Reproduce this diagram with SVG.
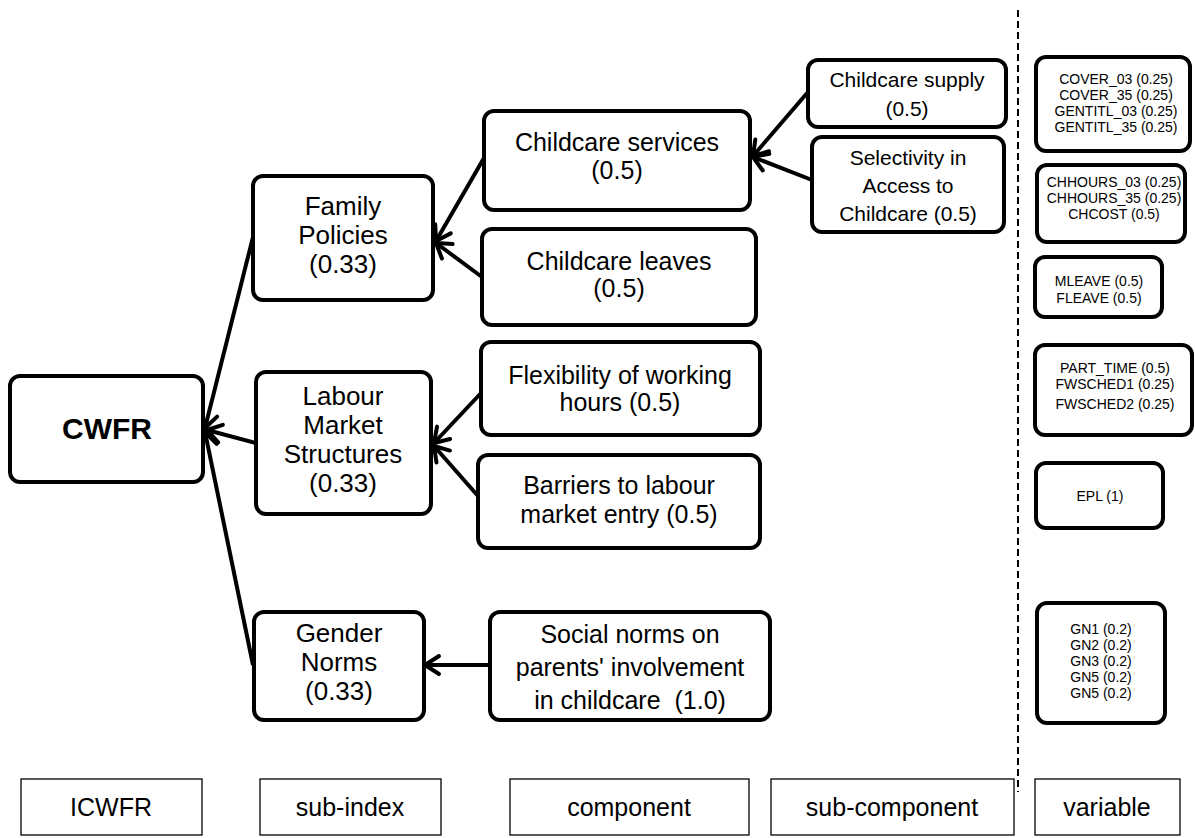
<svg xmlns="http://www.w3.org/2000/svg" width="1195" height="838" viewBox="0 0 1195 838">
<defs>
<marker id="arr" markerUnits="userSpaceOnUse" markerWidth="24" markerHeight="24" viewBox="0 0 24 24" refX="20" refY="12" orient="auto">
<path d="M6,3 L20,12 L6,21" fill="none" stroke="#000" stroke-width="4" stroke-linecap="round" stroke-linejoin="round"/>
</marker>
<style>
.n{fill:#fff;stroke:#000;stroke-width:4}
.lg{fill:#fff;stroke:#000;stroke-width:1.3}
text{font-family:"Liberation Sans",Arial,sans-serif;fill:#000;text-anchor:middle}
.si{font-size:26px}
.co{font-size:25px}
.sc{font-size:21px}
.va{font-size:14px}
.le{font-size:25px}
.c{stroke:#000;stroke-width:4;fill:none;marker-end:url(#arr)}
</style>
</defs>
<rect width="1195" height="838" fill="#fff"/>
<line x1="1018" y1="10" x2="1018" y2="792" stroke="#000" stroke-width="2" stroke-dasharray="7 4"/>

<g id="connectors">
<line class="c" x1="253" y1="237" x2="205" y2="428"/>
<line class="c" x1="256" y1="443" x2="207" y2="430"/>
<line class="c" x1="253" y1="665" x2="205" y2="432"/>
<line class="c" x1="484" y1="158" x2="436" y2="241"/>
<line class="c" x1="482" y1="277" x2="436" y2="243"/>
<line class="c" x1="808" y1="92" x2="753" y2="156"/>
<line class="c" x1="812" y1="180" x2="753" y2="157"/>
<line class="c" x1="482" y1="392" x2="434" y2="443"/>
<line class="c" x1="478" y1="496" x2="434" y2="446"/>
<line class="c" x1="490" y1="665" x2="425" y2="665"/>
</g>

<g id="cwfr"><rect class="n" x="10" y="376" width="193" height="106" rx="10"/>
<text x="107" y="439" style="font-size:30px;font-weight:bold">CWFR</text></g>

<g id="family"><rect class="n" x="253" y="176" width="180" height="124" rx="10"/>
<text class="si" x="343" y="215">Family</text><text class="si" x="343" y="244">Policies</text><text class="si" x="343" y="273">(0.33)</text></g>

<g id="labour"><rect class="n" x="256" y="372" width="175" height="142" rx="10"/>
<text class="si" x="343" y="405">Labour</text><text class="si" x="343" y="434">Market</text><text class="si" x="343" y="463">Structures</text><text class="si" x="343" y="492">(0.33)</text></g>

<g id="gender"><rect class="n" x="254" y="612" width="170" height="108" rx="10"/>
<text class="si" x="339" y="642">Gender</text><text class="si" x="339" y="671">Norms</text><text class="si" x="339" y="700">(0.33)</text></g>

<g id="services"><rect class="n" x="484" y="111" width="266" height="99" rx="10"/>
<text class="co" x="617" y="151">Childcare services</text><text class="co" x="617" y="179">(0.5)</text></g>

<g id="leaves"><rect class="n" x="482" y="229" width="274" height="96" rx="10"/>
<text class="co" x="619" y="270">Childcare leaves</text><text class="co" x="619" y="297">(0.5)</text></g>

<g id="flex"><rect class="n" x="481" y="342" width="279" height="93" rx="10"/>
<text class="co" x="620" y="384">Flexibility of working</text><text class="co" x="620" y="411">hours (0.5)</text></g>

<g id="barriers"><rect class="n" x="478" y="455" width="282" height="93" rx="10"/>
<text class="co" x="619" y="494">Barriers to labour</text><text class="co" x="619" y="523">market entry (0.5)</text></g>

<g id="social"><rect class="n" x="490" y="612" width="280" height="108" rx="10"/>
<text class="co" x="630" y="643">Social norms on</text><text class="co" x="630" y="676">parents' involvement</text><text class="co" x="630" y="709" xml:space="preserve">in childcare  (1.0)</text></g>

<g id="supply"><rect class="n" x="808" y="60" width="198" height="67" rx="10"/>
<text class="sc" x="907" y="87">Childcare supply</text><text class="sc" x="907" y="116">(0.5)</text></g>

<g id="selectivity"><rect class="n" x="812" y="137" width="192" height="95" rx="10"/>
<text class="sc" x="908" y="165">Selectivity in</text><text class="sc" x="908" y="193">Access to</text><text class="sc" x="908" y="221">Childcare (0.5)</text></g>

<g id="v1"><rect class="n" x="1036" y="57" width="154" height="94" rx="10"/>
<text class="va" x="1116" y="84">COVER_03 (0.25)</text><text class="va" x="1116" y="100">COVER_35 (0.25)</text><text class="va" x="1116" y="116">GENTITL_03 (0.25)</text><text class="va" x="1116" y="132">GENTITL_35 (0.25)</text></g>

<g id="v2"><rect class="n" x="1037" y="165" width="148" height="77" rx="10"/>
<text class="va" x="1114" y="187">CHHOURS_03 (0.25)</text><text class="va" x="1114" y="203">CHHOURS_35 (0.25)</text><text class="va" x="1114" y="219">CHCOST (0.5)</text></g>

<g id="v3"><rect class="n" x="1035" y="257" width="127" height="60" rx="10"/>
<text class="va" x="1099" y="286">MLEAVE (0.5)</text><text class="va" x="1099" y="303">FLEAVE (0.5)</text></g>

<g id="v4"><rect class="n" x="1035" y="345" width="157" height="90" rx="10"/>
<text class="va" x="1115" y="373">PART_TIME (0.5)</text><text class="va" x="1115" y="389">FWSCHED1 (0.25)</text><text class="va" x="1115" y="409">FWSCHED2 (0.25)</text></g>

<g id="v5"><rect class="n" x="1036" y="463" width="127" height="65" rx="10"/>
<text class="va" x="1100" y="501">EPL (1)</text></g>

<g id="v6"><rect class="n" x="1037" y="603" width="128" height="120" rx="10"/>
<text class="va" x="1101" y="634">GN1 (0.2)</text><text class="va" x="1101" y="650">GN2 (0.2)</text><text class="va" x="1101" y="666">GN3 (0.2)</text><text class="va" x="1101" y="682">GN5 (0.2)</text><text class="va" x="1101" y="698">GN5 (0.2)</text></g>

<g id="legend">
<rect class="lg" x="21" y="779" width="181" height="56"/><text class="le" x="111" y="816">ICWFR</text>
<rect class="lg" x="260" y="779" width="181" height="56"/><text class="le" x="350" y="816">sub-index</text>
<rect class="lg" x="510" y="779" width="239" height="56"/><text class="le" x="629" y="816">component</text>
<rect class="lg" x="771" y="779" width="243" height="56"/><text class="le" x="892" y="816">sub-component</text>
<rect class="lg" x="1035" y="779" width="145" height="56"/><text class="le" x="1107" y="816">variable</text>
</g>
</svg>
